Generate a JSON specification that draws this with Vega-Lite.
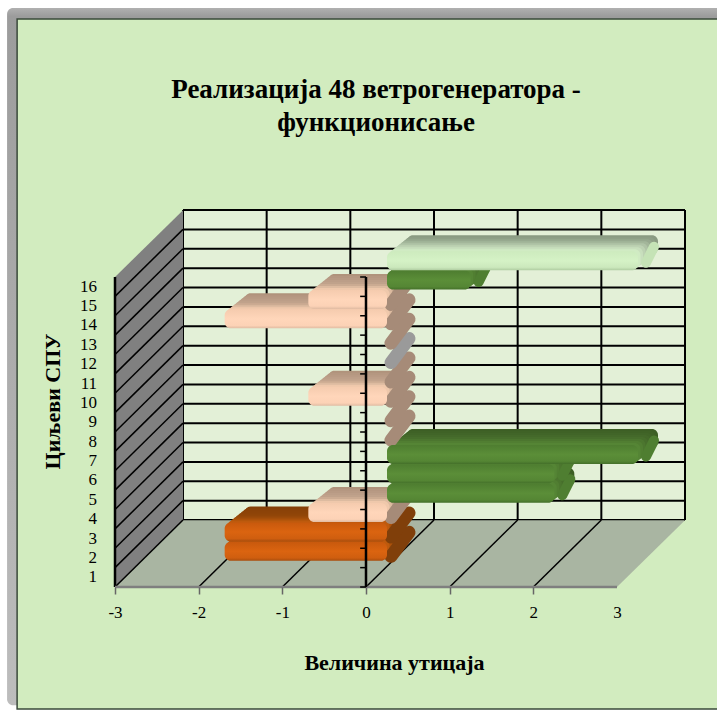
{
"$schema":"https://vega.github.io/schema/vega-lite/v6.json",
"width":502,"height":310,
"autosize":{"type":"none"},
"padding":{"left":115,"top":277,"right":100,"bottom":124},
"background":"#FFFFFF",
"datasets":{
"bars":[
{"category":1,"value":-2,"series":"orange"},
{"category":2,"value":-2,"series":"orange"},
{"category":3,"value":-1,"series":"peach"},
{"category":4,"value":2,"series":"green"},
{"category":5,"value":2,"series":"green"},
{"category":6,"value":3,"series":"green"},
{"category":7,"value":0,"series":"peach"},
{"category":8,"value":0,"series":"peach"},
{"category":9,"value":-1,"series":"peach"},
{"category":10,"value":0,"series":"peach"},
{"category":11,"value":0,"series":"gray"},
{"category":12,"value":0,"series":"peach"},
{"category":13,"value":-2,"series":"peach"},
{"category":14,"value":-1,"series":"peach"},
{"category":15,"value":1,"series":"green"},
{"category":16,"value":3,"series":"lightgreen"}],
"ticks":[{"tick":-3},{"tick":-2},{"tick":-1},{"tick":0},{"tick":1},{"tick":2},{"tick":3}],
"leftWall":[{"v":-3,"low":0.5,"high":16.5},{"v":-2.187,"low":3.95,"high":19.95}],
"floor":[{"u":0.5,"from":-3,"to":3},{"u":3.95,"from":-2.187,"to":3.813}]
},
"data":{"name":"bars"},
"layer":[
{"data":{"values":[{}]},"mark":{"type":"rect","fill":{"x1":0,"y1":0,"x2":0,"y2":1,"gradient":"linear","stops":[{"offset":0,"color":"#B0B0B0"},{"offset":0.012,"color":"#9C9C9C"},{"offset":1,"color":"#BDBDBD"}]},"cornerRadius":6},
 "encoding":{"x":{"datum":-4.29,"type":"quantitative","scale":{"domain":[-3,3],"nice":false,"zero":false},"axis":{"zindex":1,"values":[-3,-2,-1,0,1,2,3],"labelExpr":"'' + datum.value","grid":false,"domain":false,"tickColor":"#666666","tickSize":7,"tickWidth":1.5,"tickOpacity":{"expr":"datum.value==3?0:1"},"labelFont":"Liberation Serif","labelFontSize":17,"labelFontWeight":"normal","labelColor":"#000000","labelPadding":10,"labelFlush":false,"title":"Величина утицаја","titleFont":"Liberation Serif","titleFontSize":22,"titleFontWeight":"bold","titleColor":"#000000","titleX":279,"titleY":65,"titleAlign":"center"}},
 "x2":{"datum":4.3},
 "y":{"datum":30.38,"type":"quantitative","scale":{"domain":[0.5,16.5],"nice":false,"zero":false,"padding":0},"axis":{"zindex":1,"labels":false,"grid":false,"domain":false,"ticks":false,"title":"Циљеви СПУ","titleFont":"Liberation Serif","titleFontSize":22,"titleFontWeight":"bold","titleColor":"#000000","titleX":-51,"titleY":124,"titleAlign":"center","titleAngle":-90}},
 "y2":{"datum":-5.6}}},
{"data":{"values":[{}]},"mark":{"type":"rect","fill":"#D2ECBF","stroke":"#3A4A3A","strokeWidth":1.5},
 "encoding":{"x":{"datum":-4.17},"x2":{"datum":4.4},"y":{"datum":29.82},"y2":{"datum":-5.8}}},
{"data":{"values":[{}]},"mark":{"type":"text","text":["Реализација  48 ветрогенератора  -","функционисање"],"font":"Liberation Serif","fontSize":27,"fontWeight":"bold","color":"#000000","lineHeight":33,"align":"center","baseline":"alphabetic"},
 "encoding":{"x":{"datum":0.12},"y":{"datum":25.74}}},
{"mark":{"type":"text","font":"Liberation Serif","fontSize":17,"color":"#000000","align":"right","baseline":"middle","dx":-18},
 "encoding":{"x":{"datum":-3},"y":{"field":"category","type":"quantitative"},"text":{"field":"category","type":"nominal"}}},
{"data":{"values":[{}]},"mark":{"type":"rect","fill":"#E3F0D7","xOffset":68,"x2Offset":68,"yOffset":-67,"y2Offset":-67},
 "encoding":{"x":{"datum":-3},"x2":{"datum":3},"y":{"datum":0.5},"y2":{"datum":16.5}}},
{"data":{"name":"ticks"},"mark":{"type":"rule","color":"#000000","strokeWidth":2,"xOffset":68,"x2Offset":68,"yOffset":-67,"y2Offset":-67},
 "encoding":{"x":{"field":"tick","type":"quantitative"},"y":{"datum":0.5},"y2":{"datum":16.5}}},
{"mark":{"type":"rule","color":"#000000","strokeWidth":2,"xOffset":68,"x2Offset":68,"yOffset":-57.3,"y2Offset":-57.3},
 "encoding":{"x":{"datum":-3},"x2":{"datum":3},"y":{"field":"category","type":"quantitative"},"y2":{"field":"category"}}},
{"data":{"values":[{}]},"mark":{"type":"rule","color":"#000000","strokeWidth":2,"xOffset":68,"x2Offset":68,"yOffset":-67,"y2Offset":-67},
 "encoding":{"x":{"datum":-3},"x2":{"datum":3},"y":{"datum":16.5},"y2":{"datum":16.5}}},
{"data":{"name":"leftWall"},"mark":{"type":"area","color":"#808080","interpolate":"linear"},
 "encoding":{"x":{"field":"v","type":"quantitative"},"y":{"field":"low","type":"quantitative"},"y2":{"field":"high"}}},
{"data":{"name":"floor"},"mark":{"type":"area","color":"#A9B5A2","orient":"horizontal"},
 "encoding":{"y":{"field":"u","type":"quantitative"},"x":{"field":"from","type":"quantitative"},"x2":{"field":"to"}}},
{"mark":{"type":"rule","color":"#000000","strokeWidth":1.5,"x2Offset":68,"yOffset":9.7,"y2Offset":-57.3},
 "encoding":{"x":{"datum":-3},"x2":{"datum":-3},"y":{"field":"category","type":"quantitative"},"y2":{"field":"category"}}},
{"data":{"name":"ticks"},"transform":[{"filter":"datum.tick<3 && datum.tick>-3"}],"mark":{"type":"rule","color":"#000000","strokeWidth":1.5,"x2Offset":68,"y2Offset":-67},
 "encoding":{"x":{"field":"tick","type":"quantitative"},"x2":{"field":"tick"},"y":{"datum":0.5},"y2":{"datum":0.5}}},
{"data":{"values":[{}]},"mark":{"type":"rule","color":"#000000","strokeWidth":2.5},
 "encoding":{"x":{"datum":-3},"x2":{"datum":-3},"y":{"datum":0.5},"y2":{"datum":16.5}}},
{"data":{"values":[{}]},"mark":{"type":"rule","color":"#7F7F7F","strokeWidth":2.5},
 "encoding":{"x":{"datum":-3},"x2":{"datum":3},"y":{"datum":0.5},"y2":{"datum":0.5}}},

{"transform":[{"filter":"datum.value<0"}],"mark":{"type":"bar","orient":"horizontal","size":19,"cornerRadius":6,"xOffset":46,"x2Offset":41,"yOffset":-42},
 "encoding":{"x":{"field":"value","type":"quantitative"},"x2":{"datum":0},"y":{"field":"category","type":"quantitative"},"color":{"field":"series","type":"nominal","legend":null,"scale":{"domain":["orange","peach"],"range":["#854008","#B0937C"]}}}},
{"transform":[{"filter":"datum.value<0"}],"mark":{"type":"bar","orient":"horizontal","size":19,"cornerRadius":6,"xOffset":43.5,"x2Offset":38.5,"yOffset":-40},
 "encoding":{"x":{"field":"value","type":"quantitative"},"x2":{"datum":0},"y":{"field":"category","type":"quantitative"},"color":{"field":"series","type":"nominal","legend":null,"scale":{"domain":["orange","peach"],"range":["#8A4208","#B59781"]}}}},
{"transform":[{"filter":"datum.value<0"}],"mark":{"type":"bar","orient":"horizontal","size":19,"cornerRadius":6,"xOffset":41,"x2Offset":36,"yOffset":-38},
 "encoding":{"x":{"field":"value","type":"quantitative"},"x2":{"datum":0},"y":{"field":"category","type":"quantitative"},"color":{"field":"series","type":"nominal","legend":null,"scale":{"domain":["orange","peach"],"range":["#8C4308","#B89A84"]}}}},
{"transform":[{"filter":"datum.value<0"}],"mark":{"type":"bar","orient":"horizontal","size":19,"cornerRadius":6,"xOffset":38.5,"x2Offset":33.5,"yOffset":-36},
 "encoding":{"x":{"field":"value","type":"quantitative"},"x2":{"datum":0},"y":{"field":"category","type":"quantitative"},"color":{"field":"series","type":"nominal","legend":null,"scale":{"domain":["orange","peach"],"range":["#8E4408","#BC9E88"]}}}},
{"transform":[{"filter":"datum.value<0"}],"mark":{"type":"bar","orient":"horizontal","size":19,"cornerRadius":6,"xOffset":36,"x2Offset":31,"yOffset":-34},
 "encoding":{"x":{"field":"value","type":"quantitative"},"x2":{"datum":0},"y":{"field":"category","type":"quantitative"},"color":{"field":"series","type":"nominal","legend":null,"scale":{"domain":["orange","peach"],"range":["#924608","#C0A28B"]}}}},
{"transform":[{"filter":"datum.value<0"}],"mark":{"type":"bar","orient":"horizontal","size":19,"cornerRadius":6,"xOffset":33.5,"x2Offset":28.5,"yOffset":-32},
 "encoding":{"x":{"field":"value","type":"quantitative"},"x2":{"datum":0},"y":{"field":"category","type":"quantitative"},"color":{"field":"series","type":"nominal","legend":null,"scale":{"domain":["orange","peach"],"range":["#9C4B0A","#CBAB92"]}}}},
{"transform":[{"filter":"datum.value<0"}],"mark":{"type":"bar","orient":"horizontal","size":19,"cornerRadius":6,"xOffset":31,"x2Offset":26,"yOffset":-30},
 "encoding":{"x":{"field":"value","type":"quantitative"},"x2":{"datum":0},"y":{"field":"category","type":"quantitative"},"color":{"field":"series","type":"nominal","legend":null,"scale":{"domain":["orange","peach"],"range":["#AC520B","#DDBBA0"]}}}},
{"transform":[{"filter":"datum.value<0"}],"mark":{"type":"bar","orient":"horizontal","size":19,"cornerRadius":6,"xOffset":28.5,"x2Offset":23.5,"yOffset":-28},
 "encoding":{"x":{"field":"value","type":"quantitative"},"x2":{"datum":0},"y":{"field":"category","type":"quantitative"},"color":{"field":"series","type":"nominal","legend":null,"scale":{"domain":["orange","peach"],"range":["#BE5A0D","#EFC8AB"]}}}},

{"transform":[{"filter":"datum.value>0"}],"mark":{"type":"bar","orient":"horizontal","size":19,"cornerRadius":6,"xOffset":41,"x2Offset":41,"yOffset":-42},
 "encoding":{"x":{"field":"value","type":"quantitative"},"x2":{"datum":0},"y":{"field":"category","type":"quantitative"},"color":{"field":"series","type":"nominal","legend":null,"scale":{"domain":["green","lightgreen"],"range":["#3D5F25","#8A9B82"]}}}},
{"transform":[{"filter":"datum.value>0"}],"mark":{"type":"bar","orient":"horizontal","size":19,"cornerRadius":6,"xOffset":38.5,"x2Offset":38.5,"yOffset":-40},
 "encoding":{"x":{"field":"value","type":"quantitative"},"x2":{"datum":0},"y":{"field":"category","type":"quantitative"},"color":{"field":"series","type":"nominal","legend":null,"scale":{"domain":["green","lightgreen"],"range":["#3F6226","#8FA087"]}}}},
{"transform":[{"filter":"datum.value>0"}],"mark":{"type":"bar","orient":"horizontal","size":19,"cornerRadius":6,"xOffset":36,"x2Offset":36,"yOffset":-38},
 "encoding":{"x":{"field":"value","type":"quantitative"},"x2":{"datum":0},"y":{"field":"category","type":"quantitative"},"color":{"field":"series","type":"nominal","legend":null,"scale":{"domain":["green","lightgreen"],"range":["#416528","#97A98F"]}}}},
{"transform":[{"filter":"datum.value>0"}],"mark":{"type":"bar","orient":"horizontal","size":19,"cornerRadius":6,"xOffset":33.5,"x2Offset":33.5,"yOffset":-36},
 "encoding":{"x":{"field":"value","type":"quantitative"},"x2":{"datum":0},"y":{"field":"category","type":"quantitative"},"color":{"field":"series","type":"nominal","legend":null,"scale":{"domain":["green","lightgreen"],"range":["#44692A","#A3B69A"]}}}},
{"transform":[{"filter":"datum.value>0"}],"mark":{"type":"bar","orient":"horizontal","size":19,"cornerRadius":6,"xOffset":31,"x2Offset":31,"yOffset":-34},
 "encoding":{"x":{"field":"value","type":"quantitative"},"x2":{"datum":0},"y":{"field":"category","type":"quantitative"},"color":{"field":"series","type":"nominal","legend":null,"scale":{"domain":["green","lightgreen"],"range":["#476E2C","#B0C4A7"]}}}},
{"transform":[{"filter":"datum.value>0"}],"mark":{"type":"bar","orient":"horizontal","size":19,"cornerRadius":6,"xOffset":28.5,"x2Offset":28.5,"yOffset":-32},
 "encoding":{"x":{"field":"value","type":"quantitative"},"x2":{"datum":0},"y":{"field":"category","type":"quantitative"},"color":{"field":"series","type":"nominal","legend":null,"scale":{"domain":["green","lightgreen"],"range":["#4C762F","#BDD2B3"]}}}},
{"transform":[{"filter":"datum.value>0"}],"mark":{"type":"bar","orient":"horizontal","size":19,"cornerRadius":6,"xOffset":26,"x2Offset":26,"yOffset":-30},
 "encoding":{"x":{"field":"value","type":"quantitative"},"x2":{"datum":0},"y":{"field":"category","type":"quantitative"},"color":{"field":"series","type":"nominal","legend":null,"scale":{"domain":["green","lightgreen"],"range":["#517E32","#C8DFBD"]}}}},
{"transform":[{"filter":"datum.value>0"}],"mark":{"type":"bar","orient":"horizontal","size":19,"cornerRadius":6,"xOffset":23.5,"x2Offset":23.5,"yOffset":-28},
 "encoding":{"x":{"field":"value","type":"quantitative"},"x2":{"datum":0},"y":{"field":"category","type":"quantitative"},"color":{"field":"series","type":"nominal","legend":null,"scale":{"domain":["green","lightgreen"],"range":["#558535","#D0EBC3"]}}}},

{"transform":[{"filter":"datum.value<=0"}],"mark":{"type":"rule","strokeCap":"round","strokeWidth":13,"xOffset":25,"x2Offset":43,"yOffset":-21,"y2Offset":-45},
 "encoding":{"x":{"datum":0},"x2":{"datum":0},"y":{"field":"category","type":"quantitative"},"y2":{"field":"category"},"color":{"field":"series","type":"nominal","legend":null,"scale":{"domain":["gray","orange","peach"],"range":["#9A9A9A","#803F0A","#A68B78"]}}}},
{"transform":[{"filter":"datum.value>0"}],"mark":{"type":"rule","strokeCap":"round","strokeWidth":10,"xOffset":29,"x2Offset":37,"yOffset":-24,"y2Offset":-40},
 "encoding":{"x":{"field":"value","type":"quantitative"},"x2":{"field":"value"},"y":{"field":"category","type":"quantitative"},"y2":{"field":"category"},"color":{"field":"series","type":"nominal","legend":null,"scale":{"domain":["green","lightgreen"],"range":["#4F7E31","#C5E3B6"]}}}},

{"transform":[{"filter":"datum.series=='orange'"}],"mark":{"type":"bar","orient":"horizontal","size":19,"cornerRadius":6,"xOffset":26,"x2Offset":21,"yOffset":-26,"fill":{"x1":0,"y1":0,"x2":0,"y2":1,"gradient":"linear","stops":[{"offset":0,"color":"#C8590D"},{"offset":0.5,"color":"#DB6410"},{"offset":0.85,"color":"#CF5E0F"},{"offset":1,"color":"#A84D0D"}]}},
 "encoding":{"x":{"field":"value","type":"quantitative"},"x2":{"datum":0},"y":{"field":"category","type":"quantitative"}}},
{"transform":[{"filter":"datum.series=='peach' && datum.value<0"}],"mark":{"type":"bar","orient":"horizontal","size":19,"cornerRadius":6,"xOffset":26,"x2Offset":21,"yOffset":-26,"fill":{"x1":0,"y1":0,"x2":0,"y2":1,"gradient":"linear","stops":[{"offset":0,"color":"#F5CBAE"},{"offset":0.5,"color":"#FFD6BA"},{"offset":0.85,"color":"#FCD2B6"},{"offset":1,"color":"#E0BBA2"}]}},
 "encoding":{"x":{"field":"value","type":"quantitative"},"x2":{"datum":0},"y":{"field":"category","type":"quantitative"}}},
{"transform":[{"filter":"datum.series=='green'"}],"mark":{"type":"bar","orient":"horizontal","size":19,"cornerRadius":6,"xOffset":21,"x2Offset":21,"yOffset":-26,"fill":{"x1":0,"y1":0,"x2":0,"y2":1,"gradient":"linear","stops":[{"offset":0,"color":"#4E7D30"},{"offset":0.5,"color":"#5B8E38"},{"offset":0.85,"color":"#558634"},{"offset":1,"color":"#44702A"}]}},
 "encoding":{"x":{"field":"value","type":"quantitative"},"x2":{"datum":0},"y":{"field":"category","type":"quantitative"}}},
{"transform":[{"filter":"datum.series=='lightgreen'"}],"mark":{"type":"bar","orient":"horizontal","size":19,"cornerRadius":6,"xOffset":21,"x2Offset":21,"yOffset":-26,"fill":{"x1":0,"y1":0,"x2":0,"y2":1,"gradient":"linear","stops":[{"offset":0,"color":"#CDEBBE"},{"offset":0.5,"color":"#D5F2C6"},{"offset":0.85,"color":"#CBE8BC"},{"offset":1,"color":"#B0CDA2"}]}},
 "encoding":{"x":{"field":"value","type":"quantitative"},"x2":{"datum":0},"y":{"field":"category","type":"quantitative"}}},

{"data":{"values":[{}]},"mark":{"type":"rule","color":"#000000","strokeWidth":2.5},
 "encoding":{"x":{"datum":0},"x2":{"datum":0},"y":{"datum":0.5},"y2":{"datum":16.5}}},
{"mark":{"type":"rule","color":"#000000","strokeWidth":1.5,"yOffset":9.7,"y2Offset":9.7},
 "encoding":{"x":{"datum":0},"x2":{"datum":-0.07},"y":{"field":"category","type":"quantitative"},"y2":{"field":"category"}}},
{"data":{"values":[{}]},"mark":{"type":"rule","color":"#000000","strokeWidth":1.5},
 "encoding":{"x":{"datum":0},"x2":{"datum":-0.07},"y":{"datum":16.5},"y2":{"datum":16.5}}}
],
"resolve":{"scale":{"color":"independent"}},
"config":{"view":{"stroke":null}}
}
